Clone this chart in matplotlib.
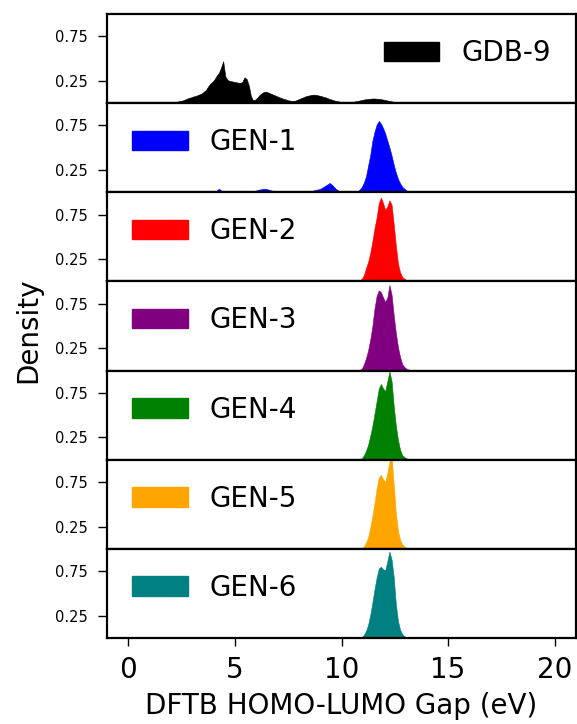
import numpy as np
import matplotlib
matplotlib.use("Agg")
import matplotlib.pyplot as plt
from matplotlib.patches import Patch

# ---- data (density per 0.1 eV bin) ----
bin_width = 0.1

labels = ["GDB-9", "GEN-1", "GEN-2", "GEN-3", "GEN-4", "GEN-5", "GEN-6"]
colors = ["black", "blue", "red", "purple", "green", "orange", "teal"]

gdb9_start = 1.9
gdb9_vals = [
    0.005, 0.010, 0.012, 0.015, 0.020, 0.025, 0.030, 0.040, 0.050, 0.060,
    0.065, 0.075, 0.080, 0.090, 0.100, 0.110, 0.130, 0.150, 0.190, 0.220,
    0.240, 0.270, 0.310, 0.340, 0.400, 0.470, 0.300, 0.260, 0.250, 0.245,
    0.240, 0.235, 0.230, 0.225, 0.240, 0.290, 0.270, 0.200, 0.080, 0.030,
    0.040, 0.060, 0.090, 0.110, 0.125, 0.130, 0.120, 0.110, 0.100, 0.090,
    0.080, 0.070, 0.060, 0.050, 0.045, 0.035, 0.030, 0.025, 0.025, 0.030,
    0.040, 0.050, 0.060, 0.070, 0.080, 0.085, 0.090, 0.095, 0.095, 0.090,
    0.085, 0.080, 0.070, 0.065, 0.055, 0.045, 0.040, 0.030, 0.025, 0.020,
    0.015, 0.012, 0.010, 0.010, 0.010, 0.012, 0.015, 0.020, 0.025, 0.030,
    0.035, 0.040, 0.045, 0.048, 0.050, 0.052, 0.052, 0.050, 0.048, 0.045,
    0.040, 0.035, 0.030, 0.025, 0.020, 0.015, 0.012, 0.010, 0.008, 0.006,
    0.005, 0.004, 0.003, 0.002, 0.001,
]

gen1_start = 3.9
gen1_vals = [
    # 3.9 - 4.9
    0.003, 0.010, 0.020, 0.040, 0.020, 0.010, 0.006, 0.005, 0.005, 0.005,
    # 4.9 - 5.9
    0.005, 0.005, 0.006, 0.008, 0.015, 0.018, 0.012, 0.008, 0.008, 0.010,
    # 5.9 - 6.9
    0.015, 0.025, 0.030, 0.035, 0.040, 0.038, 0.032, 0.025, 0.018, 0.012,
    # 6.9 - 7.9
    0.008, 0.006, 0.005, 0.005, 0.004, 0.004, 0.004, 0.004, 0.004, 0.004,
    # 7.9 - 8.9
    0.004, 0.005, 0.005, 0.006, 0.008, 0.010, 0.012, 0.018, 0.025, 0.030,
    # 8.9 - 9.9
    0.035, 0.045, 0.060, 0.075, 0.090, 0.105, 0.085, 0.060, 0.035, 0.018,
    # 9.9 - 10.7
    0.008, 0.005, 0.004, 0.004, 0.004, 0.005, 0.006, 0.008,
    # 10.7 - 13.3
    0.012, 0.030, 0.060, 0.110, 0.180, 0.300, 0.420, 0.580, 0.680, 0.760,
    0.800, 0.770, 0.720, 0.660, 0.580, 0.500, 0.410, 0.310, 0.220, 0.150,
    0.100, 0.060, 0.040, 0.020, 0.010, 0.005,
]

gen_start = 10.8
gen2_vals = [
    0.010, 0.030, 0.070, 0.150, 0.220, 0.320, 0.450, 0.600, 0.720, 0.880,
    0.940, 0.880, 0.800, 0.840, 0.910, 0.860, 0.640, 0.400, 0.200, 0.100,
    0.050, 0.030, 0.015, 0.008, 0.003,
]
gen3_vals = [
    0.005, 0.020, 0.070, 0.140, 0.230, 0.350, 0.500, 0.700, 0.840, 0.900,
    0.880, 0.820, 0.770, 0.820, 0.960, 0.850, 0.620, 0.420, 0.260, 0.150,
    0.070, 0.040, 0.020, 0.010, 0.004,
]
gen4_vals = [
    0.003, 0.015, 0.050, 0.100, 0.170, 0.270, 0.380, 0.520, 0.660, 0.800,
    0.850, 0.800, 0.770, 0.880, 0.990, 0.880, 0.600, 0.380, 0.220, 0.110,
    0.050, 0.030, 0.015, 0.006,
]
gen5_vals = [
    0.003, 0.010, 0.030, 0.070, 0.130, 0.240, 0.370, 0.520, 0.680, 0.800,
    0.830, 0.780, 0.750, 0.850, 0.980, 1.040, 0.720, 0.400, 0.200, 0.100,
    0.050, 0.025, 0.012, 0.005,
]
gen6_vals = [
    0.003, 0.012, 0.035, 0.080, 0.150, 0.260, 0.400, 0.550, 0.680, 0.780,
    0.800, 0.770, 0.760, 0.860, 0.970, 0.880, 0.680, 0.380, 0.190, 0.090,
    0.045, 0.020, 0.010, 0.004,
]

series = [
    (gdb9_start, gdb9_vals),
    (gen1_start, gen1_vals),
    (gen_start, gen2_vals),
    (gen_start, gen3_vals),
    (gen_start, gen4_vals),
    (gen_start, gen5_vals),
    (gen_start, gen6_vals),
]

x_ticks = [0, 5, 10, 15, 20]
y_ticks = [0.25, 0.75]

# ---- figure ----
W, H = 577, 724
fig = plt.figure(figsize=(W / 100, H / 100), dpi=100)
axes = fig.subplots(len(series), 1, sharex=True)
fig.subplots_adjust(left=107 / W, right=576 / W, top=1 - 14 / H,
                    bottom=1 - 638 / H, hspace=0)

for i, (ax, (start, vals), lab, col) in enumerate(zip(axes, series, labels, colors)):
    vals = np.asarray(vals)
    centers = start + bin_width * (np.arange(len(vals)) + 0.5)
    # filled density profile through the bin centres, closed to zero at both ends
    xs = np.concatenate([[centers[0] - bin_width / 2], centers,
                         [centers[-1] + bin_width / 2]])
    ys = np.concatenate([[0.0], vals, [0.0]])
    ax.fill_between(xs, ys, 0, facecolor=col, edgecolor=col, linewidth=0.4)
    ax.set_xlim(-1, 21)
    ax.set_ylim(0, 1.0)
    ax.set_yticks(y_ticks)
    ax.set_yticklabels([f"{t:.2f}" for t in y_ticks])
    ax.tick_params(axis="y", labelsize=10.5, length=6.5, width=1.0, pad=7.5)
    for sp in ax.spines.values():
        sp.set_linewidth(1.6)
    if i == len(series) - 1:
        ax.set_xticks(x_ticks)
        ax.tick_params(axis="x", labelsize=20, length=6, width=1.0, pad=7)
        ax.set_xlabel("DFTB HOMO-LUMO Gap (eV)", fontsize=20, labelpad=6)
    else:
        ax.tick_params(axis="x", bottom=False, labelbottom=False)
    loc = "upper right" if i == 0 else "upper left"
    ax.legend(handles=[Patch(facecolor=col, edgecolor=col, label=lab)],
              loc=loc, frameon=False, fontsize=20)

fig.text(28 / W, 1 - 330 / H, "Density", rotation=90, fontsize=20,
         ha="center", va="center")

fig.savefig("out.png", dpi=100)
